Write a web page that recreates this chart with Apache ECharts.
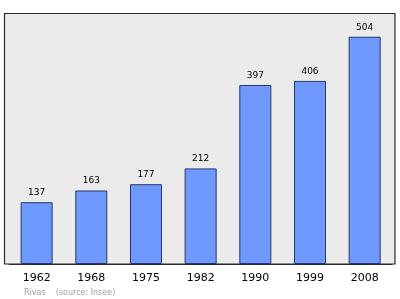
<!DOCTYPE html>
<html>
<head>
<meta charset="utf-8">
<script src="https://cdn.jsdelivr.net/npm/echarts@6/dist/echarts.min.js"></script>
<style>html,body{margin:0;padding:0;background:#fff;}#c{width:400px;height:299px;}</style>
</head>
<body>
<div id="c"></div>
<script>
var years = ['1962', '1968', '1975', '1982', '1990', '1999', '2008'];
var population = [137, 163, 177, 212, 397, 406, 504];
var sourceText = 'Rivas    (source: Insee)';

var chart = echarts.init(document.getElementById('c'), null, {renderer: 'canvas'});
chart.setOption({
  animation: false,
  backgroundColor: '#ffffff',
  graphic: [
    {type: 'rect', z: -10, shape: {x: 4.5, y: 13.5, width: 390.5, height: 250.5},
     style: {fill: '#ebebeb', stroke: '#2a2a2a', lineWidth: 1.2}},
    {type: 'text', left: 24, top: 289,
     style: {text: sourceText, fill: '#a0a0a0', font: '8px "DejaVu Sans"'}}
  ],
  grid: {left: 9.3, right: 8, top: 13.3, bottom: 35, containLabel: false},
  xAxis: {
    type: 'category', data: years,
    axisLine: {show: true, lineStyle: {color: '#2a2a2a', width: 1.2}},
    axisTick: {show: false},
    axisLabel: {color: '#000', fontFamily: 'DejaVu Sans', fontSize: 11, margin: 9}
  },
  yAxis: {
    type: 'value', min: 0, max: 556,
    show: false, splitLine: {show: false}
  },
  series: [{
    type: 'bar', data: population, barWidth: 32,
    itemStyle: {color: '#7099ff', borderColor: '#25376a', borderWidth: 1},
    label: {show: true, position: 'top', distance: 5, color: '#000',
            fontFamily: 'DejaVu Sans', fontSize: 9}
  }]
});
</script>
</body>
</html>
